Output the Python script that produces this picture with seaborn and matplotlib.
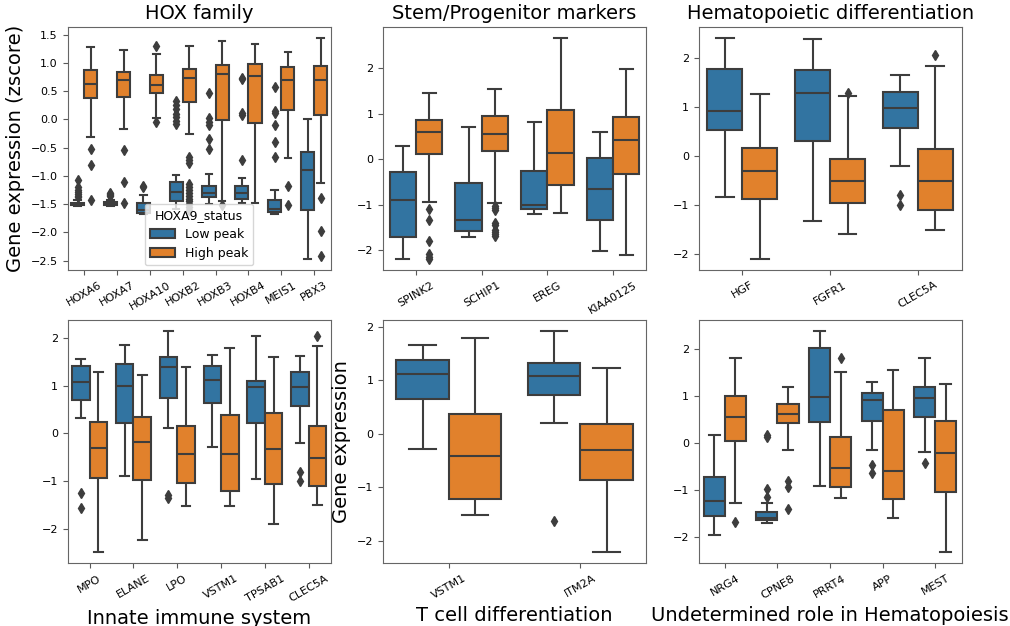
import matplotlib
matplotlib.use("Agg")
import matplotlib.pyplot as plt
import seaborn as sns
import pandas as pd

status = ["Low peak", "High peak"]

# each box: (lower whisker, q1, median, q3, upper whisker, outliers)
hox_genes = ["HOXA6", "HOXA7", "HOXA10", "HOXB2", "HOXB3", "HOXB4", "MEIS1", "PBX3"]
hox_low = [
    (-1.53, -1.52, -1.49, -1.47, -1.42, [-1.07, -1.20, -1.25, -1.28, -1.32, -1.35, -1.38]),
    (-1.53, -1.52, -1.48, -1.46, -1.42, [-1.30, -1.32, -1.34, -1.36]),
    (-1.67, -1.65, -1.60, -1.48, -1.34, [-1.17, -1.20]),
    (-1.58, -1.45, -1.28, -1.10, -0.98, [0.32, 0.25, 0.18, 0.10, 0.05, -0.02, -0.08]),
    (-1.50, -1.37, -1.31, -1.17, -0.96, [0.46, 0.02, -0.05, -0.10, -0.35, -0.53]),
    (-1.48, -1.40, -1.30, -1.18, -1.03, [0.74, 0.72, 0.12, 0.08, -0.72]),
    (-1.68, -1.63, -1.59, -1.43, -1.24, [0.58, 0.15, 0.12, -0.10, -0.40, -0.67]),
    (-2.47, -1.60, -0.89, -0.57, 0.00, []),
]
hox_high = [
    (-0.32, 0.37, 0.62, 0.87, 1.28, [-0.52, -0.81, -1.42]),
    (-0.17, 0.40, 0.70, 0.84, 1.23, [-0.54, -1.10, -1.48]),
    (0.02, 0.47, 0.61, 0.79, 1.15, [1.30, -0.04]),
    (-0.25, 0.31, 0.74, 0.89, 1.30, [-0.67, -0.72, -0.78, -1.15, -1.20, -1.25, -1.30,
                                     -1.35, -1.40, -1.45, -1.50, -1.55, -1.60]),
    (-1.45, -0.01, 0.80, 0.97, 1.38, [-1.51]),
    (-1.48, -0.06, 0.76, 0.98, 1.33, []),
    (-0.69, 0.17, 0.70, 0.92, 1.20, [-1.18, -1.52]),
    (-1.12, 0.08, 0.70, 0.94, 1.44, [-1.39, -1.97, -2.42]),
]

stem_genes = ["SPINK2", "SCHIP1", "EREG", "KIAA0125"]
stem_low = [
    (-2.20, -1.72, -0.91, -0.29, 0.29, []),
    (-1.72, -1.59, -1.34, -0.52, 0.70, []),
    (-1.21, -1.10, -1.02, -0.27, 0.82, []),
    (-2.03, -1.33, -0.65, 0.02, 0.60, []),
]
stem_high = [
    (-0.94, 0.12, 0.60, 0.87, 1.46, [-1.10, -1.35, -1.80, -2.08, -2.15, -2.20]),
    (-0.97, 0.17, 0.55, 0.96, 1.55, [-1.04, -1.08, -1.12, -1.40, -1.45, -1.55, -1.60, -1.65, -1.70]),
    (-1.19, -0.57, 0.13, 1.08, 2.67, []),
    (-2.11, -0.32, 0.42, 0.94, 1.99, []),
]

hema_genes = ["HGF", "FGFR1", "CLEC5A"]
hema_low = [
    (-0.83, 0.52, 0.91, 1.76, 2.40, []),
    (-1.32, 0.30, 1.29, 1.74, 2.37, []),
    (-0.20, 0.57, 0.97, 1.30, 1.64, [-0.80, -1.00]),
]
hema_high = [
    (-2.10, -0.88, -0.31, 0.16, 1.25, []),
    (-1.59, -0.96, -0.52, -0.07, 1.22, [1.29]),
    (-1.51, -1.10, -0.52, 0.15, 1.83, [2.06]),
]

innate_genes = ["MPO", "ELANE", "LPO", "VSTM1", "TPSAB1", "CLEC5A"]
innate_low = [
    (0.33, 0.71, 1.08, 1.42, 1.56, [-1.26, -1.57]),
    (-0.89, 0.23, 1.00, 1.47, 1.87, []),
    (0.11, 0.74, 1.39, 1.60, 2.15, [-1.30, -1.35]),
    (-0.28, 0.65, 1.13, 1.41, 1.66, []),
    (-0.95, 0.23, 0.97, 1.10, 2.06, []),
    (-0.20, 0.57, 0.97, 1.30, 1.64, [-0.80, -1.00]),
]
innate_high = [
    (-2.50, -0.93, -0.30, 0.25, 1.29, []),
    (-2.25, -0.97, -0.18, 0.35, 1.23, []),
    (-1.52, -1.05, -0.44, 0.15, 1.39, []),
    (-1.52, -1.22, -0.43, 0.38, 1.79, []),
    (-1.91, -1.07, -0.33, 0.43, 1.61, []),
    (-1.51, -1.10, -0.52, 0.15, 1.83, [2.06]),
]

tcell_genes = ["VSTM1", "ITM2A"]
tcell_low = [
    (-0.28, 0.65, 1.12, 1.39, 1.67, []),
    (0.21, 0.72, 1.08, 1.33, 1.92, [-1.64]),
]
tcell_high = [
    (-1.52, -1.23, -0.42, 0.37, 1.79, []),
    (-2.22, -0.86, -0.31, 0.18, 1.23, []),
]

undet_genes = ["NRG4", "CPNE8", "PRRT4", "APP", "MEST"]
undet_low = [
    (-1.95, -1.55, -1.22, -0.72, 0.17, []),
    (-1.70, -1.64, -1.60, -1.46, -1.27, [0.17, 0.13, -0.97, -1.15]),
    (-0.92, 0.45, 0.99, 2.02, 2.38, []),
    (-0.14, 0.48, 0.92, 1.07, 1.31, [-0.46, -0.64]),
    (-0.19, 0.55, 0.97, 1.19, 1.82, [-0.43]),
]
undet_high = [
    (-1.28, 0.05, 0.56, 1.01, 1.82, [-1.67]),
    (-0.14, 0.43, 0.63, 0.83, 1.20, [-0.80, -0.93, -1.40]),
    (-1.17, -0.94, -0.52, 0.13, 1.51, [1.81]),
    (-1.60, -1.18, -0.60, 0.71, 1.56, []),
    (-2.32, -1.03, -0.21, 0.47, 1.25, []),
]

panels = [
    ("HOX family", "", "Gene expression (zscore)", hox_genes, hox_low, hox_high),
    ("Stem/Progenitor markers", "", "", stem_genes, stem_low, stem_high),
    ("Hematopoietic differentiation", "", "", hema_genes, hema_low, hema_high),
    ("", "Innate immune system", "", innate_genes, innate_low, innate_high),
    ("", "T cell differentiation", "Gene expression", tcell_genes, tcell_low, tcell_high),
    ("", "Undetermined role in Hematopoiesis", "", undet_genes, undet_low, undet_high),
]


def expand(box, rep=40):
    # rebuild a sample whose quartiles/whiskers match the box
    lo, q1, med, q3, hi, fliers = box
    return [lo, hi] + fliers + [q1] * rep + [med] * rep + [q3] * rep


def panel_frame(genes, low, high):
    rows = []
    for g, lb, hb in zip(genes, low, high):
        for s, b in zip(status, (lb, hb)):
            rows += [(g, s, v) for v in expand(b)]
    return pd.DataFrame(rows, columns=["gene", "HOXA9_status", "expr"])


gray = "#3d3d3d"
fig, axes = plt.subplots(2, 3, figsize=(10.1, 6.26), dpi=100)
axes = axes.flatten()

for i, (title, xlab, ylab, genes, low, high) in enumerate(panels):
    ax = axes[i]
    df = panel_frame(genes, low, high)
    sns.boxplot(
        ax=ax,
        data=df,
        x="gene",
        y="expr",
        hue="HOXA9_status",
        order=genes,
        hue_order=status,
        linewidth=1.5,
        linecolor=gray,
        flierprops={"marker": "d", "markerfacecolor": gray, "markeredgecolor": gray,
                    "markersize": 5},
        legend="auto" if i == 0 else False,
    )
    ax.set_title(title, fontsize=14)
    ax.set_xlabel(xlab, fontsize=14)
    ax.set_ylabel(ylab, fontsize=14)
    ax.tick_params(axis="x", rotation=30, labelsize=8)
    ax.tick_params(axis="y", labelsize=8)
    ax.tick_params(color="0.35")
    for sp in ax.spines.values():
        sp.set_edgecolor("0.4")

sns.move_legend(axes[0], "lower center", title="HOXA9_status", fontsize=9, title_fontsize=9,
                borderaxespad=0.4)

fig.subplots_adjust(left=0.067, right=0.952, top=0.957, bottom=0.10, wspace=0.20, hspace=0.206)
fig.savefig("out.png", dpi=100)
